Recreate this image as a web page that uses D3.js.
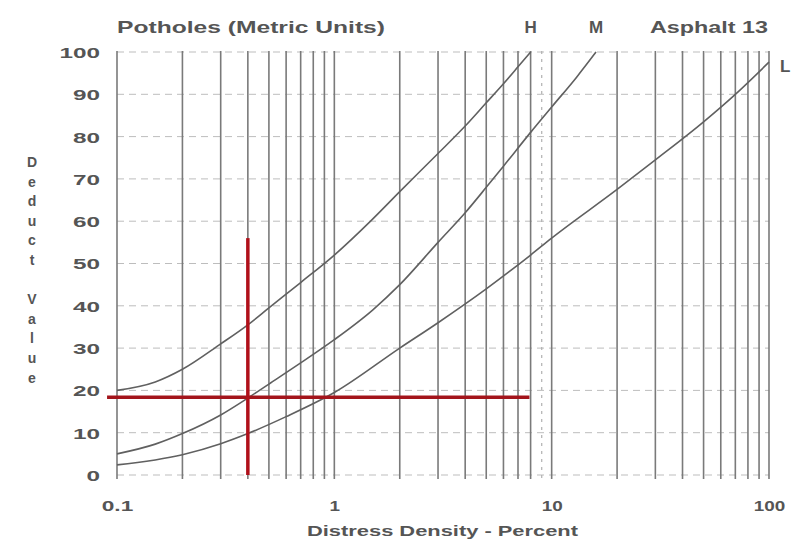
<!DOCTYPE html>
<html>
<head>
<meta charset="utf-8">
<script src="https://cdn.jsdelivr.net/npm/d3@7"></script>
<style>
  html, body { margin: 0; padding: 0; background: #ffffff; }
  svg { display: block; }
  text { font-family: "Liberation Sans", Arial, sans-serif; font-weight: bold; fill: #555555; }
</style>
</head>
<body>
<svg id="chart" width="803" height="542"></svg>
<script>
// ---- data ----
const densityH = [0.1, 0.15, 0.2, 0.3, 0.4, 0.5, 0.7, 1, 1.5, 2, 3, 4, 5, 6, 7, 8];
const deductH  = [20, 22, 25, 31, 35.5, 39.5, 45.5, 52, 60.5, 67, 76, 82.5, 88, 92.5, 96.5, 100];

const densityM = [0.1, 0.15, 0.2, 0.3, 0.4, 0.5, 0.7, 1, 1.5, 2, 3, 4, 5, 6, 8, 10, 13, 16];
const deductM  = [5, 7.3, 9.8, 14.2, 18.2, 21.5, 26.5, 32, 39, 45, 55, 62, 68, 73, 81, 87, 94, 100];

const densityL = [0.1, 0.2, 0.3, 0.4, 0.6, 1, 2, 3, 5, 8, 10, 20, 30, 50, 70, 100];
const deductL  = [2.4, 4.8, 7.4, 9.8, 13.8, 19.5, 30, 36, 44, 52, 56, 67.5, 74.5, 83.5, 90, 97.6];

const curveLabels = ["H", "M", "L"];
const yTickValues = [0, 10, 20, 30, 40, 50, 60, 70, 80, 90, 100];
const xTickLabels = [0.1, 1, 10, 100];
const readingDeduct = 18.4;   // red horizontal reading line
const readingDensity = 0.4;   // red vertical reading line
const titleText = "Potholes (Metric Units)";
const subtitleText = "Asphalt 13";
const xTitle = "Distress Density - Percent";
const yTitle = "Deduct Value";

// ---- scales ----
const svg = d3.select("#chart");
const x = d3.scaleLog().domain([0.1, 100]).range([117, 769]);
const y = d3.scaleLinear().domain([0, 100]).range([475, 52]);

svg.append("rect").attr("width", 803).attr("height", 542).attr("fill", "#ffffff");

// horizontal dashed grid
svg.append("g").selectAll("line").data(yTickValues).join("line")
  .attr("x1", x(0.1)).attr("x2", x(100))
  .attr("y1", d => y(d)).attr("y2", d => y(d))
  .attr("stroke", "#bdbdbd").attr("stroke-width", 1)
  .attr("stroke-dasharray", "7,5");

// vertical log grid lines
const vTicks = x.ticks();
const isNine = d => Math.abs(d - 9) < 1e-9;
svg.append("g").selectAll("line").data(vTicks).join("line")
  .attr("x1", d => x(d)).attr("x2", d => x(d))
  .attr("y1", y(100) - 1).attr("y2", y(0) + 4)
  .attr("stroke", d => isNine(d) ? "#b0b0b0" : "#7a7a7a")
  .attr("stroke-width", d => isNine(d) ? 1.2 : 1.6)
  .attr("stroke-dasharray", d => isNine(d) ? "3,5" : null);

// curves
const series = [
  { name: "H", xs: densityH, ys: deductH },
  { name: "M", xs: densityM, ys: deductM },
  { name: "L", xs: densityL, ys: deductL }
];
const line = d3.line().x(d => x(d[0])).y(d => y(d[1])).curve(d3.curveMonotoneX);
svg.append("g").selectAll("path").data(series).join("path")
  .attr("d", s => line(s.xs.map((v, i) => [v, s.ys[i]])))
  .attr("fill", "none").attr("stroke", "#606060").attr("stroke-width", 1.6);

// red reading lines
svg.append("line")
  .attr("x1", x(0.09)).attr("x2", x(7.9))
  .attr("y1", y(readingDeduct)).attr("y2", y(readingDeduct))
  .attr("stroke", "#a3141b").attr("stroke-width", 3.5);
svg.append("line")
  .attr("x1", x(readingDensity)).attr("x2", x(readingDensity))
  .attr("y1", y(56)).attr("y2", y(0))
  .attr("stroke", "#b0101a").attr("stroke-width", 3.5);

// y axis tick labels
const yAxis = d3.axisLeft(y).tickValues(yTickValues).tickSize(0).tickPadding(0);
const gy = svg.append("g").attr("transform", "translate(100,0)").call(yAxis);
gy.select(".domain").remove();
gy.selectAll("text")
  .style("font-size", "15px").style("font-family", "'Liberation Sans', Arial, sans-serif")
  .style("font-weight", "bold").attr("fill", "#505050").attr("dy", "0.36em")
  .attr("textLength", d => String(d).length * 13.5).attr("lengthAdjust", "spacingAndGlyphs");

// x axis tick labels
const xAxis = d3.axisBottom(x).tickValues(xTickLabels).tickSize(0).tickPadding(0)
  .tickFormat(d => String(d));
const gx = svg.append("g").attr("transform", "translate(0,498)").call(xAxis);
gx.select(".domain").remove();
gx.selectAll("text")
  .style("font-size", "15px").style("font-family", "'Liberation Sans', Arial, sans-serif")
  .style("font-weight", "bold").attr("fill", "#505050").attr("dy", "0.85em")
  .attr("textLength", d => String(d).length * 10.5).attr("lengthAdjust", "spacingAndGlyphs");

// titles
svg.append("text").attr("x", 117).attr("y", 33).text(titleText)
  .style("font-size", "17px").attr("textLength", 268).attr("lengthAdjust", "spacingAndGlyphs");
svg.append("text").attr("x", 650).attr("y", 33).text(subtitleText)
  .style("font-size", "17px").attr("textLength", 118).attr("lengthAdjust", "spacingAndGlyphs");
svg.append("text").attr("x", 307).attr("y", 536).text(xTitle)
  .style("font-size", "15px").attr("textLength", 271).attr("lengthAdjust", "spacingAndGlyphs");

// curve labels
const labelPos = [
  { t: curveLabels[0], x: x(8), y: 33, anchor: "middle" },
  { t: curveLabels[1], x: x(16), y: 33, anchor: "middle" },
  { t: curveLabels[2], x: x(100) + 11, y: 72, anchor: "start" }
];
svg.append("g").selectAll("text").data(labelPos).join("text")
  .attr("x", d => d.x).attr("y", d => d.y).attr("text-anchor", d => d.anchor)
  .style("font-size", "17px").text(d => d.t);

// vertical stacked y title
svg.append("g").selectAll("text").data(yTitle.split("")).join("text")
  .attr("x", 32).attr("y", (d, i) => 162 + i * 19.6)
  .attr("text-anchor", "middle").attr("dy", "0.36em")
  .style("font-size", "14px").text(d => d);
</script>
</body>
</html>
